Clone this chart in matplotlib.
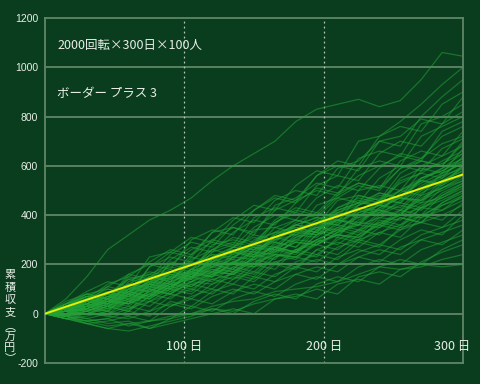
import matplotlib
matplotlib.use("Agg")
import matplotlib.pyplot as plt

plt.rcParams['font.family'] = ['Noto Sans CJK JP', 'DejaVu Sans']

# ---- data ----
days = [0, 15, 30, 45, 60, 75, 90, 105, 120, 135, 150, 165, 180, 195, 210, 225, 240, 255, 270, 285, 300]
walks = [
    [0, 60, 150, 260, 320, 380, 420, 470, 540, 600, 650, 700, 780, 830, 850, 870, 840, 865, 950, 1060, 1045],
    [0, 30, 70, 60, 160, 200, 180, 300, 340, 320, 420, 470, 450, 560, 620, 600, 720, 780, 850, 930, 1000],
    [0, 20, 60, 90, 70, 190, 250, 230, 330, 390, 370, 460, 500, 480, 590, 620, 700, 680, 800, 880, 950],
    [0, 40, 90, 130, 110, 230, 250, 310, 290, 380, 440, 420, 520, 580, 560, 700, 720, 760, 740, 850, 900],
    [0, 10, 50, 110, 160, 140, 240, 290, 270, 360, 420, 480, 460, 560, 600, 580, 700, 720, 790, 770, 880],
    [0, 50, 80, 60, 150, 210, 260, 240, 330, 350, 320, 440, 470, 530, 510, 630, 660, 640, 770, 800, 850],
    [0, 20, 40, 80, 140, 120, 200, 260, 300, 280, 390, 430, 410, 520, 560, 540, 650, 700, 680, 770, 820],
    [0, 30, 80, 100, 80, 190, 230, 210, 300, 350, 330, 420, 460, 500, 480, 590, 620, 600, 720, 760, 800],
    [0, 20, 60, 120, 150, 130, 220, 270, 250, 330, 380, 360, 450, 510, 490, 560, 600, 640, 620, 740, 780],
    [0, 40, 60, 40, 130, 170, 150, 240, 290, 270, 350, 400, 380, 470, 520, 500, 590, 650, 630, 720, 760],
    [0, 10, 40, 70, 120, 100, 210, 190, 260, 310, 290, 370, 420, 400, 480, 530, 510, 620, 660, 640, 740],
    [0, 30, 70, 110, 90, 150, 190, 170, 280, 300, 280, 380, 430, 410, 490, 530, 510, 590, 630, 690, 720],
    [0, -10, 30, 60, 100, 150, 130, 220, 260, 240, 340, 350, 330, 440, 470, 450, 550, 600, 580, 670, 710],
    [0, 40, 80, 60, 140, 160, 200, 180, 260, 290, 270, 370, 410, 390, 470, 520, 500, 590, 620, 600, 700],
    [0, 20, 50, 80, 60, 140, 180, 160, 250, 280, 260, 350, 380, 360, 460, 480, 460, 570, 620, 600, 690],
    [0, 10, 20, 60, 110, 90, 170, 210, 190, 270, 320, 300, 370, 410, 390, 500, 520, 500, 600, 640, 680],
    [0, 30, 60, 40, 120, 160, 140, 200, 240, 220, 300, 330, 380, 360, 430, 470, 450, 550, 590, 570, 670],
    [0, 0, 40, 70, 50, 120, 160, 140, 230, 250, 230, 330, 350, 330, 430, 460, 440, 540, 570, 620, 660],
    [0, 20, 30, 50, 90, 70, 170, 150, 220, 260, 240, 320, 360, 340, 420, 450, 490, 470, 580, 610, 650],
    [0, 40, 70, 50, 110, 150, 130, 230, 210, 270, 310, 290, 360, 390, 370, 480, 460, 530, 570, 550, 640],
    [0, 10, 50, 90, 70, 130, 160, 140, 230, 270, 250, 310, 350, 330, 410, 440, 490, 470, 550, 590, 630],
    [0, -10, 10, 40, 80, 60, 150, 170, 150, 250, 280, 260, 340, 380, 360, 440, 470, 450, 550, 580, 620],
    [0, 30, 50, 30, 100, 140, 120, 180, 220, 200, 280, 310, 290, 370, 410, 390, 460, 500, 480, 570, 610],
    [0, 20, 60, 100, 80, 130, 170, 150, 210, 250, 230, 310, 340, 320, 390, 430, 410, 490, 540, 520, 600],
    [0, 0, 20, 60, 40, 120, 100, 170, 200, 180, 260, 290, 270, 360, 380, 360, 450, 470, 510, 560, 590],
    [0, 30, 40, 20, 100, 120, 100, 180, 160, 230, 270, 250, 320, 350, 330, 410, 440, 420, 500, 540, 580],
    [0, 10, 40, 70, 50, 110, 150, 130, 190, 220, 200, 290, 270, 340, 380, 360, 430, 470, 450, 530, 570],
    [0, 20, 30, 10, 90, 70, 130, 170, 150, 210, 240, 220, 310, 330, 310, 400, 420, 400, 490, 530, 560],
    [0, -20, 0, 30, 10, 100, 80, 150, 190, 170, 230, 270, 250, 320, 360, 340, 410, 450, 430, 510, 550],
    [0, 30, 60, 40, 90, 130, 110, 160, 200, 180, 240, 270, 250, 340, 320, 380, 420, 400, 470, 510, 540],
    [0, 10, 20, 50, 30, 90, 130, 110, 170, 210, 190, 260, 240, 320, 350, 330, 400, 440, 420, 490, 530],
    [0, 20, 50, 30, 70, 110, 90, 150, 180, 160, 230, 270, 250, 300, 340, 320, 390, 420, 400, 480, 520],
    [0, -10, 10, 40, 20, 70, 110, 90, 160, 190, 170, 240, 220, 290, 320, 300, 380, 360, 430, 470, 510],
    [0, 20, 30, 10, 80, 60, 110, 150, 130, 190, 220, 200, 260, 300, 280, 340, 370, 350, 430, 460, 500],
    [0, 0, 30, 60, 40, 80, 120, 100, 150, 180, 160, 230, 260, 240, 300, 340, 320, 390, 370, 450, 490],
    [0, 10, 0, 20, 50, 30, 90, 120, 100, 170, 150, 230, 250, 230, 310, 290, 350, 390, 370, 440, 480],
    [0, 30, 40, 20, 60, 100, 80, 130, 160, 140, 200, 180, 260, 280, 260, 320, 360, 340, 400, 440, 470],
    [0, -20, -10, 10, -10, 50, 80, 60, 120, 150, 130, 200, 180, 260, 240, 300, 330, 310, 390, 420, 460],
    [0, 10, 20, 0, 50, 80, 60, 120, 140, 120, 190, 210, 190, 260, 290, 270, 330, 360, 400, 380, 450],
    [0, 0, -20, 0, 30, 10, 70, 100, 80, 140, 170, 150, 210, 240, 220, 290, 270, 350, 370, 400, 440],
    [0, 20, 10, 30, 10, 70, 100, 80, 140, 160, 140, 210, 230, 210, 270, 300, 280, 340, 370, 350, 420],
    [0, -10, -30, -20, 10, -10, 50, 30, 90, 120, 100, 160, 190, 170, 230, 260, 240, 300, 340, 320, 400],
    [0, 10, 0, -10, 20, 50, 30, 70, 100, 80, 150, 130, 190, 220, 200, 250, 280, 260, 320, 350, 380],
    [0, -20, -40, -30, -10, -30, 30, 60, 40, 90, 120, 100, 160, 190, 170, 230, 260, 240, 300, 330, 360],
    [0, 0, 10, -10, -20, 10, 40, 20, 70, 100, 80, 130, 160, 140, 200, 230, 210, 270, 300, 280, 340],
    [0, -10, -30, -50, -40, -60, -20, 30, 10, 60, 90, 70, 120, 150, 130, 190, 220, 200, 260, 290, 320],
    [0, -20, -40, -60, -70, -50, -30, -10, 20, 0, 50, 80, 60, 120, 150, 130, 190, 220, 200, 260, 300],
    [0, -10, -20, -40, -30, -60, -40, -20, 0, 20, 0, 60, 70, 100, 80, 150, 170, 150, 210, 250, 280],
    [0, -20, -30, -20, -50, -30, -20, 0, 20, 10, 40, 60, 80, 60, 120, 140, 120, 180, 190, 220, 240],
    [0, -10, -40, -60, -40, -30, -10, 0, 30, 50, 60, 90, 100, 110, 130, 160, 190, 180, 200, 190, 200],
    [0, 20, 10, 50, 70, 60, 110, 150, 170, 160, 220, 260, 250, 300, 340, 360, 350, 410, 450, 470, 520],
    [0, 10, 40, 30, 80, 110, 100, 160, 190, 210, 200, 270, 300, 290, 350, 390, 410, 400, 480, 510, 560],
    [0, 30, 20, 60, 90, 120, 110, 170, 210, 200, 260, 300, 320, 310, 370, 420, 400, 460, 500, 540, 580],
    [0, 0, 30, 70, 60, 100, 150, 140, 200, 230, 220, 280, 330, 320, 380, 410, 440, 430, 510, 550, 600],
    [0, 20, 50, 40, 90, 130, 120, 180, 220, 250, 240, 300, 340, 330, 400, 430, 420, 480, 530, 570, 610],
    [0, -10, 20, 50, 40, 90, 130, 160, 150, 210, 250, 240, 300, 350, 340, 400, 440, 470, 460, 540, 590],
    [0, 30, 60, 50, 100, 140, 170, 160, 220, 260, 250, 310, 360, 350, 410, 450, 440, 500, 550, 580, 630],
    [0, 10, 40, 80, 70, 120, 160, 150, 210, 240, 280, 270, 330, 370, 360, 420, 460, 450, 520, 560, 620],
    [0, 20, 10, 40, 80, 70, 120, 140, 180, 170, 230, 250, 290, 280, 330, 370, 360, 420, 460, 500, 540],
    [0, 0, 20, 10, 50, 90, 80, 130, 170, 160, 200, 240, 230, 290, 320, 310, 370, 400, 390, 450, 500],
    [0, 40, 70, 60, 110, 150, 140, 200, 230, 270, 260, 320, 360, 390, 380, 440, 480, 470, 540, 590, 650],
    [0, 10, 30, 70, 100, 90, 140, 180, 170, 230, 270, 260, 310, 350, 380, 370, 430, 470, 460, 520, 570],
    [0, -10, 0, 30, 60, 50, 100, 130, 120, 170, 210, 240, 230, 280, 320, 310, 360, 400, 430, 420, 480],
    [0, 20, 40, 80, 120, 110, 170, 200, 240, 230, 290, 330, 320, 380, 420, 450, 440, 500, 540, 530, 600],
    [0, 10, 20, 50, 40, 80, 120, 110, 160, 200, 190, 250, 290, 280, 330, 360, 390, 380, 440, 480, 530],
]
expected_days = [0, 300]
expected_vals = [0, 565]

yticks = [-200, 0, 200, 400, 600, 800, 1000, 1200]
xtick_vals = [100, 200, 300]
xtick_labels = ["100 日", "200 日", "300 日"]
note1 = "2000回転×300日×100人"
note2 = "ボーダー プラス 3"
ylabel_chars = ["累", "積", "収", "支", "︵", "万", "円", "︶"]
ylabel_rows_px = [275, 287.5, 300, 312.5, 326, 337, 348, 358]

# ---- style ----
BG = "#0a3c1e"
GRID = "#5f8667"
LINE = "#22a336"
TXT = "#e8efe8"

fig = plt.figure(figsize=(4.8, 3.84), dpi=100, facecolor=BG)
ax = fig.add_axes([45/480, 1-363/384, (463-45)/480, (363-18)/384])
ax.set_facecolor(BG)
ax.set_xlim(0, 300)
ax.set_ylim(-200, 1200)

for y in yticks[1:-1]:
    ax.axhline(y, color=GRID, lw=1.3, zorder=1)
for x in xtick_vals[:-1]:
    ax.axvline(x, color="#b8c8bc", lw=0.9, ls=(0, (1.5, 2.5)), zorder=1)

for w in walks:
    ax.plot(days, w, color=LINE, lw=0.9, alpha=0.55, zorder=2)

ax.plot(expected_days, expected_vals, color="#e6f000", lw=1.4, zorder=3)

for s in ax.spines.values():
    s.set_color(GRID)
    s.set_linewidth(1.3)

ax.set_yticks(yticks)
ax.set_yticklabels([str(v) for v in yticks], color=TXT, fontsize=7.5,
                   family="Liberation Sans")
ax.tick_params(axis="y", length=0, pad=5)
ax.set_xticks([])

for v, lab in zip(xtick_vals, xtick_labels):
    if v == xtick_vals[-1]:
        ax.annotate(lab, (v, -135), xytext=(7, 0), textcoords="offset pixels",
                    ha="right", va="center", color=TXT, fontsize=9)
    else:
        ax.annotate(lab, (v, -135), ha="center", va="center", color=TXT, fontsize=9)

ax.text(12/418*300, 1090, note1, color=TXT, fontsize=9, va="center", ha="left")
ax.text(12/418*300, 895, note2, color=TXT, fontsize=9, va="center", ha="left")

# vertical y-axis label, one character per row
for ch, py in zip(ylabel_chars, ylabel_rows_px):
    fig.text(10/480, 1 - py/384, ch, color=TXT, fontsize=8,
             ha="center", va="center")

fig.savefig("out.png", dpi=100, facecolor=BG)
